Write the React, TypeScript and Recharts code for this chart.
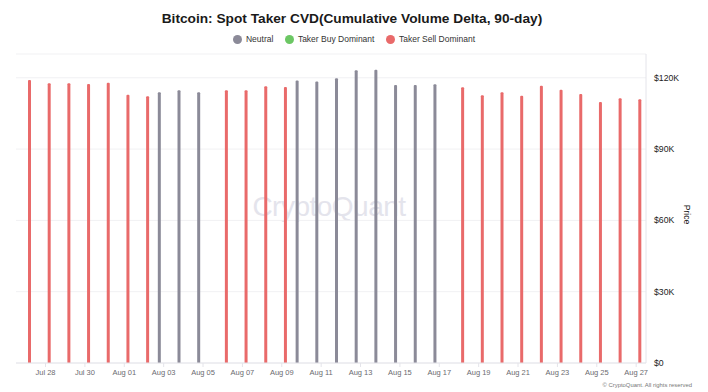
import React from 'react';
import { BarChart, Bar, XAxis, YAxis, CartesianGrid } from 'recharts';

const dates = [
  'Jul 27', 'Jul 28', 'Jul 29', 'Jul 30', 'Jul 31', 'Aug 01', 'Aug 02', 'Aug 03',
  'Aug 04', 'Aug 05', 'Aug 06', 'Aug 07', 'Aug 08', 'Aug 09', 'Aug 10', 'Aug 11',
  'Aug 12', 'Aug 13', 'Aug 14', 'Aug 15', 'Aug 16', 'Aug 17', 'Aug 18', 'Aug 19',
  'Aug 20', 'Aug 21', 'Aug 22', 'Aug 23', 'Aug 24', 'Aug 25', 'Aug 26', 'Aug 27',
];

const neutralPrice: (number | null)[] = [
  null, null, null, null, null, null, null, 113900,
  114700, 113900, null, null, null, null, 118900, 118400,
  119800, 123200, 123400, 117000, 117000, 117300, null, null,
  null, null, null, null, null, null, null, null,
];

const buyPrice: (number | null)[] = [
  null, null, null, null, null, null, null, null,
  null, null, null, null, null, null, null, null,
  null, null, null, null, null, null, null, null,
  null, null, null, null, null, null, null, null,
];

const sellPrice: (number | null)[] = [
  119100, 117700, 117700, 117400, 117900, 112900, 112200, null,
  null, null, 114700, 114700, 116400, 116100, null, null,
  null, null, null, null, null, null, 116000, 112600,
  113900, 112400, 116600, 115000, 113200, 109800, 111400, 111000,
];

const xTicks = [
  'Jul 28', 'Jul 30', 'Aug 01', 'Aug 03', 'Aug 05', 'Aug 07', 'Aug 09', 'Aug 11',
  'Aug 13', 'Aug 15', 'Aug 17', 'Aug 19', 'Aug 21', 'Aug 23', 'Aug 25', 'Aug 27',
];
const yTicks = [0, 30000, 60000, 90000, 120000];

const seriesNames = ['Neutral', 'Taker Buy Dominant', 'Taker Sell Dominant'];
const seriesColors = ['#8b8a98', '#6cc764', '#e96a6a'];

const data = dates.map((d, i) => ({
  date: d,
  neutral: neutralPrice[i],
  buy: buyPrice[i],
  sell: sellPrice[i],
}));

const FONT = '"Liberation Sans", Arial, sans-serif';

const fmtY = (v: number) => (v === 0 ? '$0' : `$${v / 1000}K`);

const PriceLabel = (props: any) => {
  const vb = props.viewBox || {};
  const x = vb.x + 41;
  const y = vb.y + vb.height / 2 + 6;
  return (
    <text
      x={x}
      y={y}
      transform={`rotate(90, ${x}, ${y})`}
      textAnchor="middle"
      dominantBaseline="central"
      fontSize={8.6}
      fontFamily={FONT}
      fill="#222"
    >
      Price
    </text>
  );
};

export default function App() {
  return (
    <div
      style={{
        position: 'absolute',
        left: 0,
        top: 0,
        width: 708,
        height: 392,
        background: '#fff',
        fontFamily: FONT,
        overflow: 'hidden',
      }}
    >
      <div
        style={{
          position: 'absolute',
          left: 0,
          top: 11,
          width: 708,
          textAlign: 'center',
          fontSize: 13.7,
          lineHeight: '16px',
          fontWeight: 700,
          color: '#1a1a1a',
          paddingLeft: 0,
          boxSizing: 'border-box',
        }}
      >
        <span style={{ position: 'relative', left: -2 }}>
          Bitcoin: Spot Taker CVD(Cumulative Volume Delta, 90-day)
        </span>
      </div>
      <div
        style={{
          position: 'absolute',
          left: 0,
          top: 34,
          width: 708,
          height: 10,
          display: 'flex',
          justifyContent: 'center',
          alignItems: 'center',
          fontSize: 8.5,
          lineHeight: '10px',
          color: '#333',
        }}
      >
        <div style={{ display: 'flex', alignItems: 'center', position: 'relative', left: 0 }}>
          {seriesNames.map((n, i) => (
            <div
              key={n}
              style={{ display: 'flex', alignItems: 'center', marginLeft: i === 0 ? 0 : 11.5 }}
            >
              <span
                style={{
                  display: 'inline-block',
                  width: 9,
                  height: 9,
                  borderRadius: '50%',
                  background: seriesColors[i],
                  marginRight: 4,
                }}
              />
              <span>{n}</span>
            </div>
          ))}
        </div>
      </div>
      <div
        style={{
          position: 'absolute',
          left: 229,
          top: 190,
          width: 200,
          textAlign: 'center',
          fontSize: 28,
          lineHeight: '34px',
          color: '#e4e4ec',
          letterSpacing: -0.5,
        }}
      >
        CryptoQuant
      </div>
      <div style={{ position: 'absolute', left: 0, top: 0 }}>
        <BarChart
          width={708}
          height={392}
          data={data}
          margin={{ top: 54, right: 0, bottom: 9, left: 16 }}
          barSize={3}
          barGap={1}
        >
          <CartesianGrid vertical={false} stroke="#f1f1f3" />
          <XAxis
            dataKey="date"
            ticks={xTicks}
            interval={0}
            tickSize={4}
            tickMargin={3}
            height={20}
            axisLine={{ stroke: '#e4e4ea' }}
            tickLine={{ stroke: '#e4e4ea' }}
            tick={{ fontSize: 7.5, fill: '#6b6b70', fontFamily: FONT }}
          />
          <YAxis
            orientation="right"
            domain={[0, 130000]}
            ticks={yTicks}
            tickFormatter={fmtY}
            width={62}
            tickSize={0}
            tickMargin={8}
            tickLine={false}
            axisLine={{ stroke: '#e4e4ea' }}
            tick={{ fontSize: 8.7, fill: '#222', fontFamily: FONT, textAnchor: 'start' }}
            label={PriceLabel}
          />
          <Bar dataKey="neutral" name={seriesNames[0]} fill={seriesColors[0]} isAnimationActive={false} radius={[1, 1, 0, 0]} />
          <Bar dataKey="buy" name={seriesNames[1]} fill={seriesColors[1]} isAnimationActive={false} radius={[1, 1, 0, 0]} />
          <Bar dataKey="sell" name={seriesNames[2]} fill={seriesColors[2]} isAnimationActive={false} radius={[1, 1, 0, 0]} />
        </BarChart>
      </div>
      <div
        style={{
          position: 'absolute',
          right: 16,
          top: 381,
          fontSize: 5.9,
          lineHeight: '8px',
          color: '#777',
          whiteSpace: 'nowrap',
        }}
      >
        © CryptoQuant. All rights reserved
      </div>
    </div>
  );
}
